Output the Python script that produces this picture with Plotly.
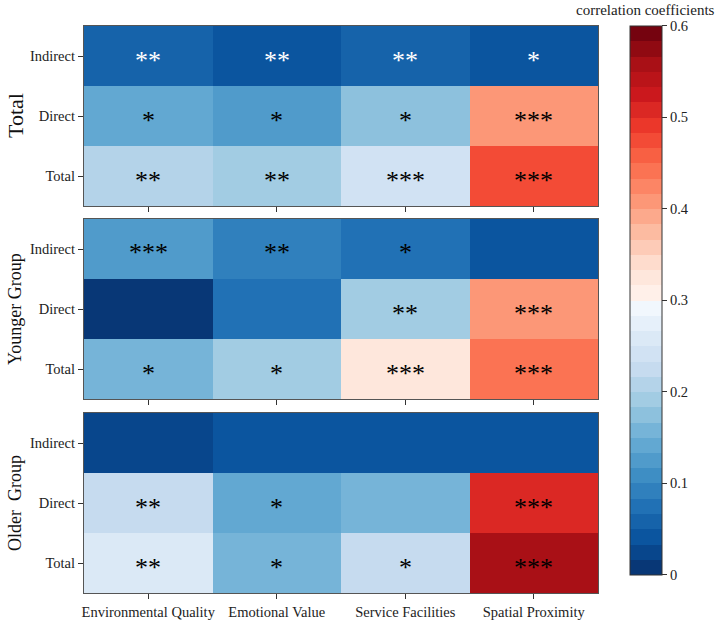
import plotly.graph_objects as go
from plotly.subplots import make_subplots
from plotly.colors import sample_colorscale, sequential

columns = ["Environmental Quality", "Emotional Value", "Service Facilities", "Spatial Proximity"]
rows = ["Indirect", "Direct", "Total"]
groups = ["Total", "Younger Group", "Older  Group"]

total_vals = [[0.065, 0.045, 0.065, 0.045],
              [0.145, 0.125, 0.175, 0.410],
              [0.205, 0.190, 0.245, 0.475]]
younger_vals = [[0.130, 0.095, 0.080, 0.035],
                [0.012, 0.080, 0.190, 0.410],
                [0.160, 0.190, 0.320, 0.440]]
older_vals = [[0.030, 0.045, 0.045, 0.045],
              [0.225, 0.145, 0.160, 0.500],
              [0.255, 0.160, 0.230, 0.565]]

total_stars = [["**", "**", "**", "*"], ["*", "*", "*", "***"], ["**", "**", "***", "***"]]
younger_stars = [["***", "**", "*", ""], ["", "", "**", "***"], ["*", "*", "***", "***"]]
older_stars = [["", "", "", ""], ["**", "*", "", "***"], ["**", "*", "*", "***"]]

vals = [total_vals, younger_vals, older_vals]
stars = [total_stars, younger_stars, older_stars]
star_cols = [[["white"] * 4, ["black"] * 4, ["black"] * 4],
             [["black"] * 4] * 3, [["black"] * 4] * 3]

zmin, zmax, nhalf = 0.0, 0.6, 18
nbins = 2 * nhalf
blues = sample_colorscale(sequential.Blues_r, [(i + 0.5) / nhalf for i in range(nhalf)])
reds = sample_colorscale(sequential.Reds, [(i + 0.5) / nhalf for i in range(nhalf)])
cols = blues + reds
cscale = []
for i, c in enumerate(cols):
    cscale.append([i / nbins, c])
    cscale.append([(i + 1) / nbins, c])

FONT = "Liberation Serif, Times New Roman, serif"
W, H = 718, 621
ml, mr, mt, mb = 84, 120, 26, 28
pw, ph = W - ml - mr, H - mt - mb

def py(px):
    return 1 - (px - mt) / ph

def pxx(px):
    return (px - ml) / pw

fig = make_subplots(rows=3, cols=1, shared_xaxes=False)

panels = [(26, 206), (219, 399), (413, 593)]
for k in range(3):
    fig.add_trace(go.Heatmap(
        z=vals[k], x=columns, y=rows, coloraxis="coloraxis",
        xgap=0, ygap=0, hoverinfo="skip"), row=k + 1, col=1)
    top, bot = panels[k]
    yname = "yaxis" if k == 0 else f"yaxis{k+1}"
    xname = "xaxis" if k == 0 else f"xaxis{k+1}"
    fig.layout[yname].update(domain=[py(bot), py(top)], autorange="reversed", automargin=False,
                             showline=True, mirror=True, linecolor="#555", linewidth=1.2,
                             ticks="outside", ticklen=5, tickcolor="#333",
                             tickfont=dict(family=FONT, size=14.5, color="#222"))
    fig.layout[xname].update(showline=True, mirror=True, linecolor="#555", linewidth=1.2,
                             automargin=False,
                             ticks="outside", ticklen=5, tickcolor="#333",
                             showticklabels=(k == 2),
                             tickfont=dict(family=FONT, size=14.5, color="#222"))
    for i in range(3):
        for j in range(4):
            s = stars[k][i][j]
            if s:
                fig.add_annotation(x=columns[j], y=rows[i], text=s, showarrow=False,
                                   xref=f"x{k+1}" if k else "x", yref=f"y{k+1}" if k else "y",
                                   yshift=-4,
                                   font=dict(family=FONT, size=26, color=star_cols[k][i][j]))
    fig.add_annotation(x=pxx(15), y=(py(top) + py(bot)) / 2, xref="paper", yref="paper",
                       text=groups[k], textangle=-90, showarrow=False,
                       xanchor="center", yanchor="middle",
                       font=dict(family=FONT, size=22 if k == 0 else 18, color="#111"))

cb_top, cb_bot = 26, 574.5
fig.update_layout(
    width=W, height=H,
    margin=dict(l=ml, r=mr, t=mt, b=mb),
    plot_bgcolor="white", paper_bgcolor="white",
    coloraxis=dict(
        cmin=zmin, cmax=zmax, colorscale=cscale,
        colorbar=dict(
            x=pxx(630), xanchor="left", xpad=0,
            y=py((cb_top + cb_bot) / 2), yanchor="middle",
            len=cb_bot - cb_top, lenmode="pixels", thickness=32, thicknessmode="pixels",
            ypad=0,
            outlinewidth=1, outlinecolor="#333",
            ticks="outside", ticklen=5, tickcolor="#333",
            tickvals=[0, 0.1, 0.2, 0.3, 0.4, 0.5, 0.6],
            ticktext=["0", "0.1", "0.2", "0.3", "0.4", "0.5", "0.6"],
            tickfont=dict(family=FONT, size=14.5, color="#222"),
        ),
    ),
    showlegend=False,
)

fig.add_annotation(x=pxx(645), y=py(10.5), xref="paper", yref="paper",
                   text="correlation coefficients", showarrow=False,
                   xanchor="center", yanchor="middle",
                   font=dict(family=FONT, size=15, color="#222"))

fig.write_html("out.html")
